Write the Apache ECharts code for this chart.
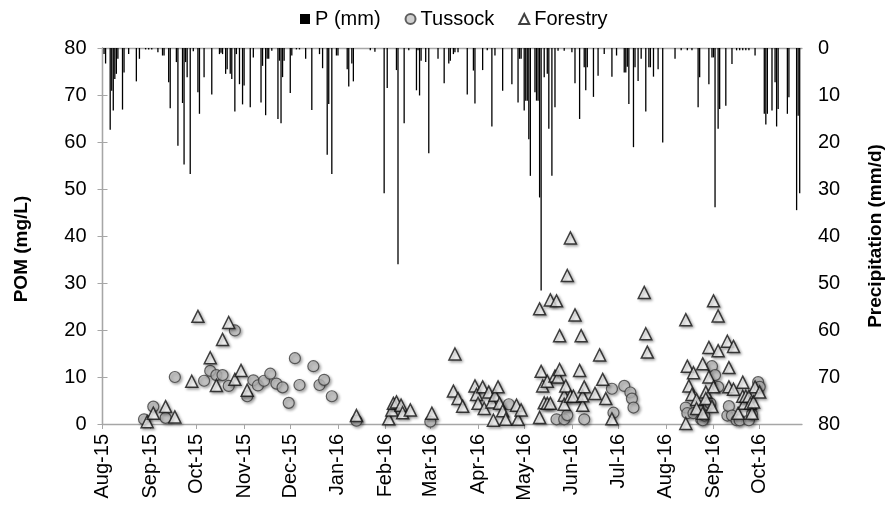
<!DOCTYPE html>
<html>
<head>
<meta charset="utf-8">
<script src="https://cdn.jsdelivr.net/npm/echarts@6/dist/echarts.min.js"></script>
<style>
  html, body { margin: 0; padding: 0; background: #fff; }
  #c2 { width: 893px; height: 506px; }
</style>
</head>
<body>
<div id="c2"></div>
<script>
// days are counted from 1 Aug 2015
var monthLabels = ['Aug-15', 'Sep-15', 'Oct-15', 'Nov-15', 'Dec-15', 'Jan-16', 'Feb-16', 'Mar-16',
    'Apr-16', 'May-16', 'Jun-16', 'Jul-16', 'Aug-16', 'Sep-16', 'Oct-16'];

// daily precipitation (mm/d)
var rainDay = [1, 2, 5, 6, 7, 8, 9, 10, 13, 14, 17, 22, 24, 28, 30, 32, 36, 39, 40, 43, 44, 48, 49, 52, 53, 54, 55,
    57, 59, 62, 63, 66, 71, 76, 77, 78, 80, 81, 83, 84, 86, 87, 89, 91, 92, 96, 98, 103, 104, 106, 107, 108, 110,
    114, 115, 116, 117, 118, 122, 123, 126, 128, 132, 136, 141, 143, 146, 147, 149, 152, 153, 159, 160, 162, 163,
    174, 177, 183, 185, 191, 192, 196, 199, 204, 205, 206, 207, 210, 212, 218, 222, 225, 226, 228,
    229, 231, 237, 241, 242, 247, 250, 253, 255, 260, 266, 270, 271, 272, 274, 275, 276, 277, 278, 281, 282, 283,
    284, 285, 287, 289, 290, 292, 294, 296, 300, 305, 307, 310, 313, 314, 315, 319, 322, 326, 331, 334, 339, 340,
    341, 342, 345, 346, 348, 350, 353, 355, 356, 358, 361, 364, 372, 376, 380, 383, 387, 388, 394, 396, 397, 398,
    400, 401, 405, 409, 412, 414, 416, 418, 420, 424, 430, 431, 432, 435, 437, 438, 439, 445, 446, 451, 452, 453];
var rainMM = [1.3, 3.3, 17.4, 9.1, 13.3, 6.6, 5.5, 2.3, 13.1, 5.2, 1.3, 7.1, 2.3, 0.3, 0.3, 0.3, 0.9, 1.6, 1.6, 7.3,
    12.8, 3, 20.8, 11.7, 24.8, 3, 6.2, 26.8, 0.7, 9.4, 14, 6.2, 9.9, 1.3, 1.0, 1.3, 5.5, 4.5, 5.5, 6.6, 13.5, 1.3,
    7.7, 12, 8, 12.6, 2, 11.6, 3.8, 14.3, 2.3, 2.3, 0.6, 15.1, 2.7, 16, 6.2, 2.7, 9.6, 1.6, 0.3, 0.3, 2.3, 13.2,
    1.3, 4.3, 22.7, 11.9, 26.8, 1.6, 1.6, 4.5, 8.2, 3.3, 7.1, 0.5, 0.8, 30.9, 8.5, 4.7, 46, 16, 0.5, 9, 0.5, 10.1,
    2.7, 3, 22.4, 2.3, 7.5, 3.3, 2.7, 1.3,
    0.9, 0.9, 9.9, 4.8, 11.8, 4.7, 0.5, 16.7, 1.6, 9.1, 7.7, 11.6, 2.3, 2.3, 13.3, 11.2, 11.2, 19.4, 27.2, 9.4,
    11.2, 11.2, 31.8, 51.6, 6.2, 5.5, 17.2, 27.2, 12.6, 0.6, 0.6, 0.9, 7.5, 15.1, 4.1, 9, 4.1, 10.4, 5.9, 1.3, 6.1,
    1.6, 5.2, 5.2, 4, 11.9, 21.1, 4.1, 7, 2.3, 13.5, 4.1, 4.1, 6.1, 4.5, 20.1, 2.3, 0.5, 0.5, 0.5, 12.6, 6.2, 7.7,
    2, 2, 33.9, 17.2, 13, 12.3, 3.4, 0.5, 0.5, 0.5, 0.5, 0.5, 1.6, 14, 16.3, 14, 13.3, 7.3, 16.7, 13, 14, 10.5,
    34.5, 14.4, 30.9];

// POM (mg/L)
var tussockDay = [27, 33, 41, 47, 66, 70, 74, 78, 82, 86, 94, 98, 101, 105, 109, 113, 117, 121, 125, 128, 137, 141,
    144, 149, 165, 213, 264, 295, 300, 302, 313, 331, 332, 339, 343, 344, 345, 379, 380, 384, 389, 390, 391, 394,
    395, 396, 398, 400, 406, 407, 409, 412, 414, 420, 422, 426, 427];
var tussockPOM = [1.0, 3.7, 1.3, 10.0, 9.2, 11.3, 10.4, 10.4, 8.1, 19.9, 5.9, 9.3, 8.2, 9.2, 10.7, 8.6, 7.8, 4.5,
    14.0, 8.3, 12.3, 8.3, 9.4, 5.9, 0.7, 0.5, 4.2, 1.0, 1.0, 1.9, 1.0, 7.5, 2.4, 8.1, 6.7, 5.4, 3.5, 3.5, 2.3, 2.3,
    1.0, 0.8, 1.8, 4.0, 4.4, 12.3, 10.4, 7.9, 1.8, 3.8, 1.8, 0.8, 0.8, 0.8, 2.1, 8.9, 7.9];

var forestryDay = [29, 33, 41, 47, 58, 62, 70, 74, 78, 82, 86, 90, 94, 165, 186, 188, 189, 191, 194, 195, 200, 214,
    228, 229, 231, 234, 242, 243, 244, 247, 248, 251, 253, 254, 255, 257, 258, 260, 262, 269, 270, 272,
    284, 284, 285, 286, 287, 289, 289, 291, 291, 294, 295, 296, 297, 297, 300, 300, 301, 302, 304, 304, 306, 307,
    310, 311, 312, 312, 313, 320, 323, 325, 327, 331, 352, 353, 354,
    379, 379, 380, 381, 383, 384, 386, 386, 390, 390, 392, 392, 394, 394, 396, 397, 397, 400, 400, 406, 407, 407,
    410, 410, 413, 416, 416, 417, 418, 420, 421, 422, 423, 424, 427];
var forestryPOM = [0.5, 2.3, 3.7, 1.5, 9.1, 22.9, 14.1, 8.2, 18.0, 21.6, 9.5, 11.4, 7.2, 1.8, 1.1, 3.0, 4.4, 4.7,
    4.0, 2.4, 3.0, 2.3, 7.0, 14.9, 5.4, 3.8, 8.1, 6.3, 4.4, 7.9, 3.3, 6.8, 4.7, 0.8, 6.1, 7.9, 4.4, 2.8, 1.0, 4.0,
    1.0, 3.0,
    1.4, 24.5, 11.2, 8.1, 4.5, 4.4, 9.1, 4.4, 26.4, 10.2, 26.2, 10.0, 11.6, 18.8, 6.1, 4.2, 8.1, 31.6, 39.6, 5.9,
    5.9, 23.2, 11.4, 18.8, 4.0, 6.0, 7.9, 6.5, 14.7, 9.5, 5.4, 1.1, 28.0, 19.2, 15.3,
    22.2, 0.1, 12.3, 8.1, 6.3, 10.9, 5.2, 3.3, 2.3, 12.8, 6.8, 5.4, 16.3, 10.0, 3.7, 7.9, 26.2, 23.0, 15.6, 17.6,
    12.0, 7.9, 7.4, 16.5, 2.3, 5.9, 8.9, 4.4, 5.9, 5.9, 4.4, 2.3, 4.7, 7.9, 6.8];

function pairs(days, vals) {
    return days.map(function (d, i) { return [d, vals[i]]; });
}
// day number of the first of each month
var day0 = Date.UTC(2015, 7, 1);
var monthTicks = monthLabels.map(function (m, i) {
    return Math.round((Date.UTC(2015, 7 + i, 1) - day0) / 86400000);
});

var font = 'Liberation Sans, Arial, sans-serif';
var axisGrey = '#a6a6a6';

var ec_center = echarts.init(document.getElementById('c2'));

var ec_center_option = {
    backgroundColor: '#fff',
    animation: false,
    textStyle: { fontFamily: font },
    legend: {
        top: 4,
        left: 295,
        itemWidth: 10,
        itemHeight: 10,
        itemGap: 24,
        textStyle: { fontSize: 20, color: '#000', fontFamily: font },
        itemStyle: { shadowBlur: 0, shadowOffsetX: 0, shadowOffsetY: 0 },
        data: [
            { name: 'P (mm)', icon: 'rect' },
            { name: 'Tussock', icon: 'circle' },
            { name: 'Forestry', icon: 'triangle' }
        ]
    },
    grid: { left: 102.5, right: 86.3, top: 48, bottom: 82 },
    xAxis: [{
        type: 'value',
        min: 0,
        max: 454.5,
        axisLine: { lineStyle: { color: axisGrey, width: 1.3 } },
        axisTick: { customValues: monthTicks, length: 5, lineStyle: { color: axisGrey } },
        splitLine: { show: false },
        axisLabel: {
            customValues: monthTicks,
            rotate: 90,
            margin: 10,
            fontSize: 20,
            color: '#000',
            fontFamily: font,
            formatter: function (val) {
                return monthLabels[monthTicks.indexOf(Math.round(val))];
            }
        }
    }, {
        // zero line of the precipitation axis, along the top
        type: 'value',
        position: 'top',
        min: 0,
        max: 454.5,
        axisLine: { lineStyle: { color: axisGrey, width: 1.3 } },
        axisTick: { show: false },
        axisLabel: { show: false },
        splitLine: { show: false }
    }],
    yAxis: [{
        type: 'value',
        min: 0,
        max: 80,
        interval: 10,
        name: 'POM (mg/L)',
        nameLocation: 'middle',
        nameRotate: 90,
        nameGap: 71,
        nameTextStyle: { fontSize: 19, fontWeight: 'bold', color: '#000', fontFamily: font, padding: [0, 26, 0, 0] },
        axisLine: { show: true, lineStyle: { color: axisGrey, width: 1.3 } },
        axisTick: { show: true, length: 5, lineStyle: { color: axisGrey } },
        splitLine: { show: false },
        axisLabel: { fontSize: 20, color: '#000', margin: 16, fontFamily: font }
    }, {
        type: 'value',
        position: 'right',
        inverse: true,
        min: 0,
        max: 80,
        interval: 10,
        name: 'Precipitation (mm/d)',
        nameLocation: 'middle',
        nameRotate: 90,
        nameGap: 64,
        nameTextStyle: { fontSize: 19, fontWeight: 'bold', color: '#000', fontFamily: font },
        axisLine: { show: true, lineStyle: { color: axisGrey, width: 1.3 } },
        axisTick: { show: true, length: 5, lineStyle: { color: axisGrey } },
        splitLine: { show: false },
        axisLabel: { fontSize: 20, color: '#000', margin: 16, fontFamily: font }
    }],
    series: [{
        name: 'P (mm)',
        type: 'bar',
        xAxisIndex: 0,
        yAxisIndex: 1,
        barWidth: 1.3,
        itemStyle: { color: '#000' },
        data: pairs(rainDay, rainMM)
    }, {
        name: 'Tussock',
        type: 'scatter',
        symbol: 'circle',
        symbolSize: 11,
        itemStyle: {
            color: '#c4c4c4',
            borderColor: '#3c3c3c',
            borderWidth: 1.2,
            shadowBlur: 3,
            shadowColor: 'rgba(0,0,0,0.4)',
            shadowOffsetX: 1.5,
            shadowOffsetY: 1.5
        },
        data: pairs(tussockDay, tussockPOM)
    }, {
        name: 'Forestry',
        type: 'scatter',
        symbol: 'triangle',
        symbolSize: 12,
        itemStyle: {
            color: '#fff',
            borderColor: '#111',
            borderWidth: 1.5,
            shadowBlur: 3,
            shadowColor: 'rgba(0,0,0,0.4)',
            shadowOffsetX: 1.5,
            shadowOffsetY: 1.5
        },
        data: pairs(forestryDay, forestryPOM)
    }]
};

ec_center.setOption(ec_center_option);
</script>
</body>
</html>
